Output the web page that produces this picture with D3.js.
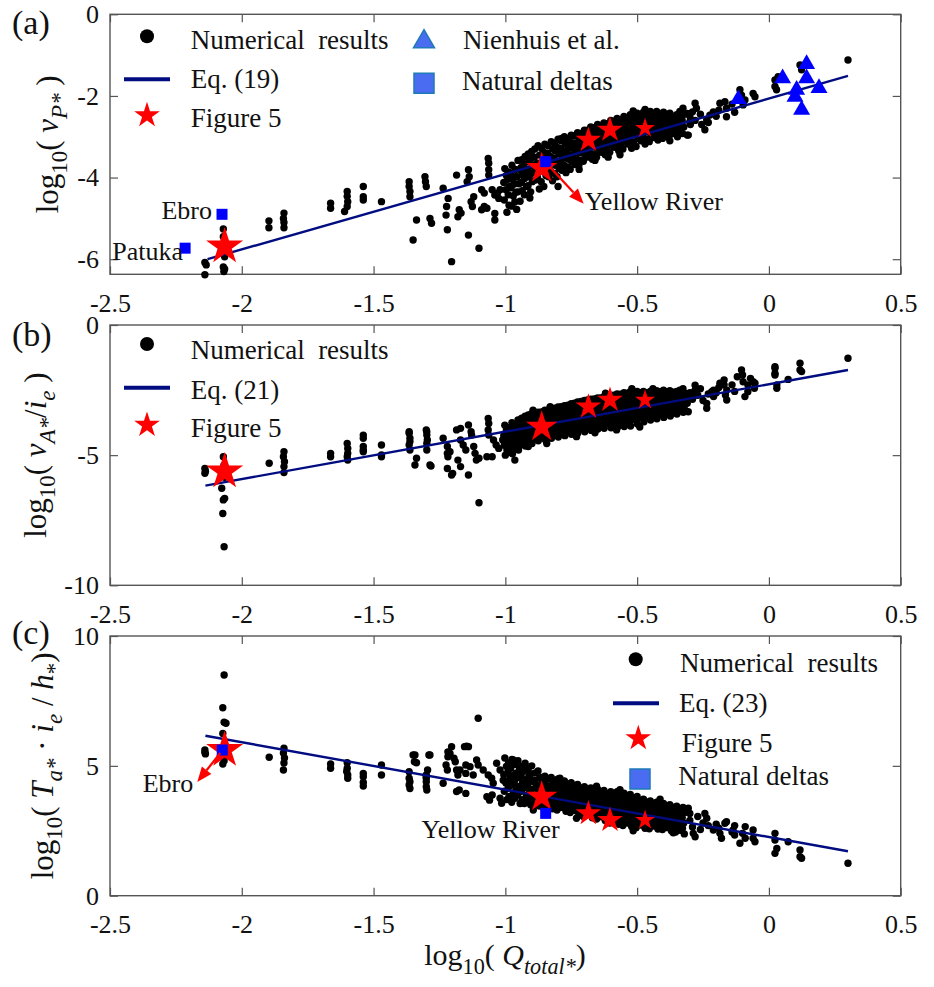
<!DOCTYPE html>
<html>
<head>
<meta charset="utf-8">
<script src="https://cdn.jsdelivr.net/npm/d3@7"></script>
<style>
body { margin: 0; background: #fff; }
text { font-family: "Liberation Serif", "Times New Roman", serif; white-space: pre; }
</style>
</head>
<body>
<div id="chart"></div>
<script>
// ---- data ----
const xTicks = [-2.5, -2, -1.5, -1, -0.5, 0, 0.5];
const yTicksA = [-6, -4, -2, 0];
const yTicksB = [-10, -5, 0];
const yTicksC = [0, 5, 10];

// fitted relations (end points of the plotted lines)
const eq19 = [[-2.13, -6.0], [0.30, -1.51]];
const eq21 = [[-2.138, -6.17], [0.30, -1.73]];
const eq23 = [[-2.138, 6.16], [0.30, 1.71]];

// "Figure 5" runs
const fig5Q = [-2.065, -0.862, -0.685, -0.603, -0.470];
const fig5A = [-5.69, -3.77, -3.08, -2.83, -2.79];
const fig5B = [-5.63, -3.91, -3.14, -2.88, -2.88];
const fig5C = [5.61, 3.81, 3.17, 2.91, 2.91];
const fig5Radius = [19.5, 16.5, 13.5, 13.5, 10.5];

// natural deltas
const deltaNamesA = ["Patuka", "Ebro", "Yellow River"];
const deltaQA = [-2.215, -2.075, -0.847];
const deltaVA = [-5.73, -4.90, -3.61];
const deltaNamesC = ["Ebro", "Yellow River"];
const deltaQC = [-2.074, -0.847];
const deltaTC = [5.61, 3.17];

// Nienhuis et al.
const nienhuisQ = [-0.116, 0.052, 0.143, 0.143, 0.105, 0.190, 0.099, 0.124];
const nienhuisV = [-2.08, -1.57, -1.22, -1.57, -1.85, -1.81, -2.02, -2.34];

// numerical results, panel (a): [log10 Qtotal*, log10 vP*]
const numA = [
  [-2.14,-6.08],[-2.135,-6.14],[-2.14,-6.38],
  [-2.07,-5.26],[-2.07,-5.45],[-2.065,-5.6],[-2.07,-5.8],[-2.065,-5.94],[-2.07,-6.19],[-2.068,-6.3],[-2.065,-6.24],
  [-1.897,-5.06],[-1.897,-5.23],
  [-1.84,-4.87],[-1.842,-5.0],[-1.84,-5.1],[-1.84,-5.23],
  [-1.663,-4.63],[-1.663,-4.75],
  [-1.60,-4.34],[-1.60,-4.46],[-1.598,-4.59],[-1.60,-4.71],[-1.61,-4.83],
  [-1.539,-4.22],[-1.539,-4.47],[-1.539,-4.55],
  [-1.47,-4.59],
  [-1.365,-4.10],[-1.365,-4.22],[-1.362,-4.34],[-1.362,-4.47],
  [-1.305,-3.98],[-1.303,-4.10],[-1.30,-4.22],
  [-1.337,-5.04],[-1.35,-5.53],[-1.286,-5.0],[-1.28,-5.12],
  [-1.236,-4.26],[-1.217,-4.51],[-1.223,-4.71],[-1.225,-4.92],[-1.22,-5.28],
  [-1.185,-3.94],[-1.175,-4.79],[-1.18,-4.96],[-1.168,-4.87],
  [-1.204,-6.06],
  [-1.14,-3.81],[-1.137,-3.98],[-1.145,-4.10],[-1.14,-5.41],[-1.10,-5.73],
  [-1.065,-3.53],[-1.063,-3.65],[-1.063,-3.81],[-1.063,-3.94],
  [-1.13,-4.59],[-1.125,-4.71],[-1.12,-4.47],
  [-1.09,-4.30],[-1.08,-4.38],[-1.08,-4.71],[-1.09,-4.79],
  [-1.07,-4.75],[-1.04,-4.88],[-1.04,-5.04],
  [-1.05,-4.30],[-1.04,-4.43],[-1.03,-4.38],[-1.025,-4.51],[-1.02,-4.30],
  [-1.002,-3.78],[-0.996,-3.95],[-1.006,-4.12],[-0.998,-4.3],[-1.004,-4.55],[-0.994,-4.85],
  [-0.975,-3.7],[-0.98,-3.9],[-0.972,-4.05],[-0.978,-4.25],[-0.97,-4.45],[-0.976,-4.7],
  [-0.952,-3.58],[-0.946,-3.8],[-0.955,-3.98],[-0.948,-4.15],[-0.953,-4.35],[-0.944,-4.58],
  [-0.925,-3.48],[-0.93,-3.66],[-0.921,-3.85],[-0.927,-4.02],[-0.92,-4.22],[-0.928,-4.42],
  [-0.9,-3.36],[-0.905,-3.55],[-0.896,-3.72],[-0.902,-3.9],[-0.898,-4.1],[-0.904,-4.35],
  [-0.876,-3.22],[-0.87,-3.45],[-0.879,-3.65],[-0.873,-3.82],[-0.878,-4.0],[-0.871,-4.28],
  [-0.85,-3.18],[-0.855,-3.38],[-0.847,-3.55],[-0.852,-3.75],[-0.846,-3.95],[-0.854,-4.22],
  [-0.826,-3.12],[-0.82,-3.3],[-0.829,-3.48],[-0.823,-3.66],[-0.828,-3.85],[-0.821,-4.08],
  [-0.8,-3.06],[-0.805,-3.25],[-0.797,-3.42],[-0.803,-3.6],[-0.796,-3.78],[-0.804,-3.98],
  [-0.776,-3.0],[-0.771,-3.18],[-0.779,-3.35],[-0.773,-3.52],[-0.778,-3.7],[-0.77,-3.88],
  [-0.75,-2.96],[-0.755,-3.12],[-0.746,-3.28],[-0.752,-3.45],[-0.747,-3.62],[-0.754,-3.8],
  [-0.726,-2.9],[-0.72,-3.06],[-0.729,-3.22],[-0.723,-3.38],[-0.728,-3.55],[-0.721,-3.7],
  [-0.7,-2.84],[-0.705,-3.0],[-0.697,-3.15],[-0.703,-3.3],[-0.696,-3.45],[-0.704,-3.6],
  [-0.676,-2.76],[-0.671,-2.92],[-0.679,-3.08],[-0.673,-3.24],[-0.678,-3.4],[-0.67,-3.55],
  [-0.65,-2.7],[-0.655,-2.86],[-0.646,-3.02],[-0.652,-3.18],[-0.647,-3.34],[-0.654,-3.5],
  [-0.626,-2.66],[-0.62,-2.82],[-0.629,-2.98],[-0.623,-3.12],[-0.628,-3.28],[-0.621,-3.44],
  [-0.6,-2.6],[-0.605,-2.76],[-0.597,-2.9],[-0.603,-3.05],[-0.596,-3.2],[-0.604,-3.38],
  [-0.576,-2.55],[-0.571,-2.7],[-0.579,-2.86],[-0.573,-3.0],[-0.578,-3.16],[-0.57,-3.34],
  [-0.55,-2.5],[-0.555,-2.66],[-0.546,-2.8],[-0.552,-2.95],[-0.547,-3.12],[-0.554,-3.3],
  [-0.526,-2.46],[-0.52,-2.62],[-0.529,-2.76],[-0.523,-2.92],[-0.528,-3.08],[-0.521,-3.28],
  [-0.5,-2.42],[-0.505,-2.58],[-0.497,-2.72],[-0.503,-2.88],[-0.496,-3.04],[-0.504,-3.24],
  [-0.476,-2.4],[-0.471,-2.55],[-0.479,-2.7],[-0.473,-2.84],[-0.478,-3.0],[-0.47,-3.18],
  [-0.45,-2.38],[-0.455,-2.52],[-0.446,-2.66],[-0.452,-2.8],[-0.447,-2.96],[-0.454,-3.12],
  [-0.426,-2.38],[-0.42,-2.52],[-0.429,-2.64],[-0.423,-2.78],[-0.428,-2.92],[-0.421,-3.08],
  [-0.4,-2.4],[-0.405,-2.54],[-0.397,-2.66],[-0.403,-2.8],[-0.396,-2.92],[-0.404,-3.04],
  [-0.376,-2.42],[-0.371,-2.56],[-0.379,-2.7],[-0.373,-2.84],[-0.378,-2.98],
  [-0.35,-2.46],[-0.355,-2.6],[-0.346,-2.74],[-0.352,-2.88],[-0.347,-3.0],
  [-0.326,-2.3],[-0.32,-2.45],[-0.329,-2.6],[-0.323,-2.76],[-0.328,-2.92],
  [-0.306,-2.96],[-0.243,-2.83],
  [-0.28,-2.18],[-0.275,-2.30],[-0.29,-2.39],[-0.31,-2.43],[-0.30,-2.63],[-0.31,-2.96],
  [-0.338,-2.51],[-0.332,-2.63],[-0.35,-2.75],[-0.363,-2.83],[-0.376,-2.91],[-0.388,-3.0],
  [-0.236,-2.59],[-0.224,-2.47],[-0.211,-2.39],
  [-0.186,-2.18],[-0.167,-2.14],[-0.161,-2.30],[-0.161,-2.51],
  [-0.11,-1.85],[-0.104,-1.98],[-0.098,-2.22],[-0.091,-2.10],
  [-0.06,-1.94],[-0.053,-2.02],
  [0.023,-1.61],[0.023,-1.77],[0.029,-1.85],[0.035,-1.53],
  [0.118,-1.24],[0.124,-1.36],
  [0.30,-1.12]
];
// panel (a), second pass over the dense band and its ragged edges
const numAExtra = [
  [-0.988,-3.86],[-0.99,-4.04],[-0.985,-4.22],[-0.989,-4.42],[-0.986,-4.68],
  [-0.963,-3.8],[-0.961,-3.98],[-0.966,-4.16],[-0.96,-4.36],[-0.964,-4.6],
  [-0.938,-3.56],[-0.94,-3.75],[-0.935,-3.93],[-0.939,-4.12],[-0.936,-4.32],
  [-0.913,-3.42],[-0.911,-3.62],[-0.916,-3.8],[-0.91,-3.98],[-0.914,-4.2],
  [-0.888,-3.3],[-0.89,-3.5],[-0.885,-3.68],[-0.889,-3.86],[-0.886,-4.06],
  [-0.863,-3.28],[-0.861,-3.46],[-0.866,-3.64],[-0.86,-3.84],[-0.864,-4.1],
  [-0.838,-3.22],[-0.84,-3.4],[-0.835,-3.58],[-0.839,-3.76],[-0.836,-3.98],
  [-0.813,-3.16],[-0.811,-3.34],[-0.816,-3.52],[-0.81,-3.7],[-0.814,-3.9],
  [-0.788,-3.1],[-0.79,-3.28],[-0.785,-3.46],[-0.789,-3.62],[-0.786,-3.82],
  [-0.763,-3.05],[-0.761,-3.22],[-0.766,-3.38],[-0.76,-3.55],[-0.764,-3.74],
  [-0.738,-2.98],[-0.74,-3.16],[-0.735,-3.32],[-0.739,-3.5],[-0.736,-3.68],
  [-0.713,-2.92],[-0.711,-3.08],[-0.716,-3.24],[-0.71,-3.4],[-0.714,-3.58],
  [-0.688,-2.84],[-0.69,-3.0],[-0.685,-3.16],[-0.689,-3.32],[-0.686,-3.5],
  [-0.663,-2.78],[-0.661,-2.94],[-0.666,-3.1],[-0.66,-3.26],[-0.664,-3.44],
  [-0.638,-2.74],[-0.64,-2.9],[-0.635,-3.05],[-0.639,-3.2],[-0.636,-3.38],
  [-0.613,-2.68],[-0.611,-2.84],[-0.616,-2.98],[-0.61,-3.14],[-0.614,-3.3],
  [-0.588,-2.62],[-0.59,-2.78],[-0.585,-2.94],[-0.589,-3.08],[-0.586,-3.26],
  [-0.563,-2.58],[-0.561,-2.74],[-0.566,-2.88],[-0.56,-3.04],[-0.564,-3.2],
  [-0.538,-2.54],[-0.54,-2.7],[-0.535,-2.84],[-0.539,-3.0],[-0.536,-3.18],
  [-0.513,-2.5],[-0.511,-2.65],[-0.516,-2.8],[-0.51,-2.96],[-0.514,-3.14],
  [-0.488,-2.46],[-0.49,-2.62],[-0.485,-2.77],[-0.489,-2.92],[-0.486,-3.1],
  [-0.463,-2.44],[-0.461,-2.59],[-0.466,-2.73],[-0.46,-2.88],[-0.464,-3.06],
  [-0.438,-2.44],[-0.44,-2.58],[-0.435,-2.72],[-0.439,-2.86],[-0.436,-3.02],
  [-0.413,-2.45],[-0.411,-2.58],[-0.416,-2.72],[-0.41,-2.86],[-0.414,-2.98],
  [-0.388,-2.46],[-0.39,-2.6],[-0.385,-2.74],[-0.389,-2.88],
  [-0.363,-2.5],[-0.361,-2.64],[-0.366,-2.78],[-0.36,-2.92],
  [-0.338,-2.38],[-0.34,-2.52],[-0.335,-2.68],[-0.339,-2.84],
  [-0.3,-2.5],[-0.298,-2.7],[-0.28,-2.6],[-0.26,-2.45],[-0.255,-2.7],[-0.23,-2.65],[-0.2,-2.5],[-0.19,-2.35],[-0.14,-2.2],[-0.13,-2.4],
  [-0.787,-3.04],[-0.515,-2.37],[-0.47,-2.33],[-0.80,-4.22],[-0.907,-4.5],[-0.957,-4.78],
  [-0.565,-3.44],[-0.66,-3.58],[-0.376,-3.1],[-0.72,-3.8],[-0.61,-3.5]
];

// numerical results, panel (b): [log10 Qtotal*, log10 vA*/ie]
const numB = [
  [-2.14,-5.51],[-2.138,-5.62],[-2.14,-5.70],
  [-2.07,-5.06],[-2.068,-5.4],[-2.07,-5.6],[-2.065,-5.85],[-2.076,-6.27],[-2.065,-6.66],[-2.07,-6.72],[-2.072,-7.24],[-2.067,-8.52],
  [-1.896,-5.31],
  [-1.84,-4.87],[-1.842,-5.06],[-1.838,-5.25],[-1.84,-5.44],[-1.84,-5.67],
  [-1.663,-4.93],[-1.663,-5.06],
  [-1.60,-4.55],[-1.598,-4.74],[-1.598,-4.93],[-1.60,-5.06],[-1.598,-5.19],
  [-1.539,-4.23],[-1.539,-4.35],[-1.539,-4.67],[-1.539,-4.80],[-1.539,-4.87],
  [-1.47,-4.61],[-1.47,-4.99],[-1.47,-5.06],
  [-1.365,-4.10],[-1.365,-4.16],[-1.362,-4.35],[-1.362,-4.48],[-1.365,-4.61],[-1.362,-4.80],
  [-1.343,-5.38],[-1.337,-5.12],
  [-1.30,-4.03],[-1.298,-4.10],[-1.298,-4.23],[-1.296,-4.42],[-1.298,-4.55],[-1.298,-4.80],
  [-1.286,-5.38],[-1.282,-5.42],
  [-1.236,-4.35],
  [-1.22,-4.67],[-1.22,-4.93],[-1.218,-5.06],[-1.22,-5.51],[-1.20,-5.70],[-1.21,-4.87],
  [-1.204,-5.76],
  [-1.185,-4.03],[-1.17,-3.97],[-1.14,-3.84],[-1.13,-4.10],[-1.128,-4.23],
  [-1.17,-4.42],[-1.16,-4.61],[-1.15,-4.80],[-1.12,-4.67],[-1.115,-4.93],[-1.18,-5.19],[-1.17,-5.44],
  [-1.14,-5.76],[-1.10,-6.83],
  [-1.065,-3.59],[-1.063,-3.78],[-1.065,-4.03],[-1.063,-4.23],
  [-1.11,-5.19],[-1.10,-5.12],[-1.07,-5.06],[-1.05,-5.06],
  [-1.045,-4.42],[-1.035,-4.61],[-1.025,-4.74],[-1.01,-4.42],
  [-0.964,-5.19],
  [-0.895,-3.27],[-0.88,-3.52],
  [-0.85,-3.27],[-0.83,-3.14],[-0.81,-3.33],[-0.78,-3.27],[-0.755,-3.52],
  [-0.66,-4.14],[-0.578,-4.03],
  [-1.002,-3.85],[-0.996,-4.05],[-1.006,-4.25],[-0.998,-4.45],[-1.004,-4.62],[-0.994,-4.8],[-1.0,-5.0],
  [-0.975,-3.75],[-0.98,-3.95],[-0.972,-4.15],[-0.978,-4.35],[-0.97,-4.55],[-0.976,-4.75],[-0.973,-4.95],
  [-0.952,-3.65],[-0.946,-3.85],[-0.955,-4.05],[-0.948,-4.25],[-0.953,-4.45],[-0.944,-4.62],[-0.95,-4.8],
  [-0.925,-3.5],[-0.93,-3.7],[-0.921,-3.9],[-0.927,-4.1],[-0.92,-4.3],[-0.928,-4.48],[-0.924,-4.65],
  [-0.9,-3.4],[-0.905,-3.6],[-0.896,-3.8],[-0.902,-3.98],[-0.898,-4.18],[-0.904,-4.38],[-0.899,-4.55],
  [-0.876,-3.35],[-0.87,-3.55],[-0.879,-3.74],[-0.873,-3.92],[-0.878,-4.1],[-0.871,-4.28],[-0.875,-4.45],
  [-0.85,-3.3],[-0.855,-3.5],[-0.847,-3.68],[-0.852,-3.86],[-0.846,-4.04],[-0.854,-4.22],[-0.849,-4.4],
  [-0.826,-3.22],[-0.82,-3.42],[-0.829,-3.6],[-0.823,-3.8],[-0.828,-3.98],[-0.821,-4.16],[-0.825,-4.35],
  [-0.8,-3.15],[-0.805,-3.35],[-0.797,-3.54],[-0.803,-3.73],[-0.796,-3.92],[-0.804,-4.1],[-0.799,-4.3],
  [-0.776,-3.1],[-0.771,-3.3],[-0.779,-3.48],[-0.773,-3.67],[-0.778,-3.86],[-0.77,-4.05],[-0.774,-4.25],
  [-0.75,-3.02],[-0.755,-3.22],[-0.746,-3.42],[-0.752,-3.62],[-0.747,-3.8],[-0.754,-4.0],[-0.749,-4.2],
  [-0.726,-2.96],[-0.72,-3.16],[-0.729,-3.36],[-0.723,-3.56],[-0.728,-3.75],[-0.721,-3.95],[-0.725,-4.15],
  [-0.7,-2.9],[-0.705,-3.1],[-0.697,-3.3],[-0.703,-3.5],[-0.696,-3.7],[-0.704,-3.9],[-0.699,-4.1],
  [-0.676,-2.85],[-0.671,-3.05],[-0.679,-3.25],[-0.673,-3.45],[-0.678,-3.65],[-0.67,-3.85],[-0.674,-4.05],
  [-0.65,-2.8],[-0.655,-3.0],[-0.646,-3.2],[-0.652,-3.4],[-0.647,-3.6],[-0.654,-3.8],[-0.649,-4.0],
  [-0.626,-2.75],[-0.62,-2.95],[-0.629,-3.15],[-0.623,-3.35],[-0.628,-3.55],[-0.621,-3.76],[-0.625,-3.97],
  [-0.6,-2.7],[-0.605,-2.9],[-0.597,-3.1],[-0.603,-3.3],[-0.596,-3.52],[-0.604,-3.73],[-0.599,-3.95],
  [-0.576,-2.65],[-0.571,-2.86],[-0.579,-3.06],[-0.573,-3.26],[-0.578,-3.48],[-0.57,-3.7],[-0.574,-3.92],
  [-0.55,-2.6],[-0.555,-2.82],[-0.546,-3.02],[-0.552,-3.23],[-0.547,-3.45],[-0.554,-3.67],[-0.549,-3.9],
  [-0.526,-2.56],[-0.52,-2.78],[-0.529,-2.98],[-0.523,-3.2],[-0.528,-3.42],[-0.521,-3.65],[-0.525,-3.88],
  [-0.5,-2.55],[-0.505,-2.75],[-0.497,-2.95],[-0.503,-3.16],[-0.496,-3.38],[-0.504,-3.6],[-0.499,-3.8],
  [-0.476,-2.55],[-0.471,-2.74],[-0.479,-2.93],[-0.473,-3.12],[-0.478,-3.32],[-0.47,-3.52],[-0.474,-3.72],
  [-0.45,-2.55],[-0.455,-2.73],[-0.446,-2.91],[-0.452,-3.09],[-0.447,-3.28],[-0.454,-3.46],[-0.449,-3.65],
  [-0.426,-2.52],[-0.42,-2.7],[-0.429,-2.88],[-0.423,-3.06],[-0.428,-3.24],[-0.421,-3.42],[-0.425,-3.6],
  [-0.4,-2.5],[-0.405,-2.68],[-0.397,-2.86],[-0.403,-3.03],[-0.396,-3.2],[-0.404,-3.38],[-0.399,-3.55],
  [-0.376,-2.52],[-0.371,-2.7],[-0.379,-2.86],[-0.373,-3.02],[-0.378,-3.18],[-0.37,-3.34],[-0.374,-3.5],
  [-0.35,-2.55],[-0.355,-2.7],[-0.346,-2.85],[-0.352,-3.0],[-0.347,-3.15],[-0.354,-3.3],[-0.349,-3.42],
  [-0.326,-2.45],[-0.32,-2.62],[-0.329,-2.78],[-0.323,-2.94],[-0.328,-3.1],[-0.321,-3.22],[-0.325,-3.35],
  [-0.306,-3.33],[-0.236,-3.20],[-0.16,-2.88],
  [-0.21,-2.50],[-0.17,-2.11],[-0.17,-2.30],[-0.16,-2.50],
  [-0.12,-1.99],[-0.1,-1.92],[-0.08,-2.30],[-0.08,-2.56],[-0.06,-2.18],[-0.055,-2.43],
  [0.023,-1.66],[0.023,-1.92],[0.03,-2.30],[0.03,-2.43],[0.073,-2.09],
  [0.118,-1.47],[0.118,-1.73],[0.30,-1.28],
  [-0.28,-2.31],[-0.28,-2.50],[-0.29,-2.62],[-0.31,-2.75],[-0.31,-3.01],
  [-0.217,-2.56],[-0.21,-2.75],[-0.236,-3.01],
  [-0.186,-2.24],[-0.18,-2.30],[-0.165,-2.69],
  [-0.104,-1.73],[-0.098,-2.18],[-0.091,-2.75],[-0.07,-2.05],
  [-0.053,-2.24],
  [0.023,-1.60],[0.023,-1.86],[0.124,-1.79]
];
// panel (b), second pass over the dense band and its ragged edges
const numBExtra = [
  [-0.988,-3.95],[-0.99,-4.15],[-0.985,-4.35],[-0.989,-4.55],[-0.986,-4.72],[-0.99,-4.9],
  [-0.963,-3.82],[-0.961,-4.02],[-0.966,-4.22],[-0.96,-4.42],[-0.964,-4.6],[-0.962,-4.78],
  [-0.938,-3.58],[-0.94,-3.78],[-0.935,-3.98],[-0.939,-4.18],[-0.936,-4.38],[-0.94,-4.58],
  [-0.913,-3.46],[-0.911,-3.66],[-0.916,-3.86],[-0.91,-4.04],[-0.914,-4.24],[-0.912,-4.44],
  [-0.888,-3.38],[-0.89,-3.58],[-0.885,-3.78],[-0.889,-3.96],[-0.886,-4.14],[-0.89,-4.34],
  [-0.863,-3.34],[-0.861,-3.52],[-0.866,-3.7],[-0.86,-3.9],[-0.864,-4.08],[-0.862,-4.3],
  [-0.838,-3.26],[-0.84,-3.45],[-0.835,-3.64],[-0.839,-3.83],[-0.836,-4.02],[-0.84,-4.22],
  [-0.813,-3.2],[-0.811,-3.4],[-0.816,-3.58],[-0.81,-3.77],[-0.814,-3.96],[-0.812,-4.16],
  [-0.788,-3.14],[-0.79,-3.34],[-0.785,-3.52],[-0.789,-3.71],[-0.786,-3.9],[-0.79,-4.12],
  [-0.763,-3.08],[-0.761,-3.28],[-0.766,-3.46],[-0.76,-3.65],[-0.764,-3.84],[-0.762,-4.05],
  [-0.738,-3.0],[-0.74,-3.2],[-0.735,-3.4],[-0.739,-3.6],[-0.736,-3.8],[-0.74,-4.0],
  [-0.713,-2.94],[-0.711,-3.14],[-0.716,-3.34],[-0.71,-3.54],[-0.714,-3.74],[-0.712,-3.95],
  [-0.688,-2.88],[-0.69,-3.08],[-0.685,-3.28],[-0.689,-3.48],[-0.686,-3.68],[-0.69,-3.9],
  [-0.663,-2.84],[-0.661,-3.04],[-0.666,-3.24],[-0.66,-3.44],[-0.664,-3.64],[-0.662,-3.84],
  [-0.638,-2.8],[-0.64,-3.0],[-0.635,-3.2],[-0.639,-3.4],[-0.636,-3.6],[-0.64,-3.8],
  [-0.613,-2.74],[-0.611,-2.94],[-0.616,-3.14],[-0.61,-3.35],[-0.614,-3.56],[-0.612,-3.78],
  [-0.588,-2.7],[-0.59,-2.9],[-0.585,-3.1],[-0.589,-3.3],[-0.586,-3.52],[-0.59,-3.74],
  [-0.563,-2.66],[-0.561,-2.86],[-0.566,-3.06],[-0.56,-3.27],[-0.564,-3.48],[-0.562,-3.7],
  [-0.538,-2.62],[-0.54,-2.82],[-0.535,-3.02],[-0.539,-3.24],[-0.536,-3.45],[-0.54,-3.68],
  [-0.513,-2.6],[-0.511,-2.8],[-0.516,-3.0],[-0.51,-3.2],[-0.514,-3.42],[-0.512,-3.62],
  [-0.488,-2.6],[-0.49,-2.78],[-0.485,-2.97],[-0.489,-3.16],[-0.486,-3.36],[-0.49,-3.56],
  [-0.463,-2.6],[-0.461,-2.78],[-0.466,-2.96],[-0.46,-3.14],[-0.464,-3.32],[-0.462,-3.5],
  [-0.438,-2.58],[-0.44,-2.76],[-0.435,-2.94],[-0.439,-3.12],[-0.436,-3.3],[-0.44,-3.48],
  [-0.413,-2.56],[-0.411,-2.74],[-0.416,-2.92],[-0.41,-3.1],[-0.414,-3.27],[-0.412,-3.44],
  [-0.388,-2.56],[-0.39,-2.74],[-0.385,-2.9],[-0.389,-3.06],[-0.386,-3.22],[-0.39,-3.4],
  [-0.363,-2.58],[-0.361,-2.74],[-0.366,-2.9],[-0.36,-3.05],[-0.364,-3.2],[-0.362,-3.36],
  [-0.338,-2.5],[-0.34,-2.66],[-0.335,-2.82],[-0.339,-2.98],[-0.336,-3.14],[-0.34,-3.28],
  [-0.3,-2.6],[-0.29,-2.85],[-0.27,-2.7],[-0.26,-2.45],[-0.25,-2.9],[-0.23,-2.65],[-0.2,-2.6],[-0.19,-2.4],[-0.14,-2.3],[-0.13,-2.55],
  [-0.73,-4.29],[-0.843,-4.55],[-0.913,-4.67],[-0.52,-2.45],[-0.44,-2.45],[-0.62,-2.62],[-0.49,-3.92]
];

// numerical results, panel (c): [log10 Qtotal*, log10 Ta* ie/h*]
const numC = [
  [-2.14,5.61],[-2.138,5.46],[-2.14,5.52],
  [-2.067,8.50],[-2.072,7.24],[-2.067,6.68],[-2.06,6.64],[-2.072,6.25],[-2.067,5.20],[-2.072,5.07],[-2.07,5.5],[-2.065,5.8],
  [-1.896,5.33],
  [-1.84,5.68],[-1.842,5.49],[-1.838,5.30],[-1.84,5.11],[-1.842,4.84],
  [-1.663,5.07],[-1.663,4.91],
  [-1.60,5.12],[-1.60,4.91],[-1.602,4.78],[-1.598,4.65],[-1.598,4.52],
  [-1.539,4.71],[-1.539,4.58],[-1.539,4.36],[-1.539,4.22],
  [-1.47,5.03],[-1.47,4.65],
  [-1.365,4.77],[-1.362,4.39],[-1.365,4.26],[-1.362,4.13],[-1.365,4.52],
  [-1.343,5.42],[-1.337,5.12],
  [-1.30,4.65],[-1.30,4.39],[-1.30,4.20],[-1.298,4.07],[-1.30,4.52],
  [-1.286,5.42],
  [-1.236,4.33],
  [-1.225,5.03],[-1.22,4.84],[-1.218,5.54],[-1.218,5.35],
  [-1.204,5.74],
  [-1.185,4.84],[-1.18,4.65],[-1.175,4.07],[-1.185,4.01],[-1.155,5.74],[-1.15,3.94],[-1.15,4.71],[-1.15,5.03],
  [-1.147,5.76],[-1.21,5.48],[-1.195,5.29],[-1.19,5.16],
  [-1.35,5.42],[-1.345,5.16],[-1.29,5.42],[-1.295,4.84],[-1.30,4.58],
  [-1.172,4.84],[-1.134,4.97],[-1.109,5.23],[-1.103,5.03],[-1.122,4.65],[-1.084,4.84],[-1.065,4.65],[-1.052,4.52],[-1.046,4.33],
  [-1.033,5.10],[-1.02,4.84],[-1.008,4.45],[-0.989,4.71],[-0.964,5.16],[-0.97,4.33],[-0.957,4.0],[-0.945,4.58],[-0.932,4.20],
  [-0.919,3.81],[-0.907,4.52],[-0.894,3.43],
  [-1.02,3.75],[-1.014,3.56],[-1.06,3.68],[-1.07,3.81],[-1.05,3.88],
  [-0.894,3.30],[-1.103,6.83],[-1.14,5.74],
  [-1.002,5.3],[-0.996,4.98],[-1.006,4.66],[-0.998,4.34],[-1.004,4.02],[-0.994,3.7],
  [-0.975,5.25],[-0.98,4.92],[-0.972,4.59],[-0.978,4.26],[-0.97,3.93],[-0.976,3.6],
  [-0.952,5.2],[-0.946,4.87],[-0.955,4.54],[-0.948,4.21],[-0.953,3.88],[-0.944,3.55],
  [-0.925,5.1],[-0.93,4.79],[-0.921,4.48],[-0.927,4.17],[-0.92,3.86],[-0.928,3.55],
  [-0.9,5.0],[-0.905,4.7],[-0.896,4.4],[-0.902,4.1],[-0.898,3.8],[-0.904,3.5],
  [-0.876,4.8],[-0.87,4.53],[-0.879,4.26],[-0.873,3.99],[-0.878,3.72],[-0.871,3.45],
  [-0.85,4.6],[-0.855,4.36],[-0.847,4.12],[-0.852,3.88],[-0.846,3.64],[-0.854,3.4],
  [-0.826,4.55],[-0.82,4.3],[-0.829,4.07],[-0.823,3.83],[-0.828,3.59],[-0.821,3.35],
  [-0.8,4.5],[-0.805,4.26],[-0.797,4.02],[-0.803,3.78],[-0.796,3.54],[-0.804,3.3],
  [-0.776,4.42],[-0.771,4.19],[-0.779,3.95],[-0.773,3.72],[-0.778,3.48],[-0.77,3.25],
  [-0.75,4.35],[-0.755,4.12],[-0.746,3.89],[-0.752,3.66],[-0.747,3.43],[-0.754,3.2],
  [-0.726,4.28],[-0.72,4.05],[-0.729,3.82],[-0.723,3.58],[-0.728,3.35],[-0.721,3.12],
  [-0.7,4.2],[-0.705,3.97],[-0.697,3.74],[-0.703,3.51],[-0.696,3.28],[-0.704,3.05],
  [-0.676,4.15],[-0.671,3.92],[-0.679,3.69],[-0.673,3.46],[-0.678,3.23],[-0.67,3.0],
  [-0.65,4.1],[-0.655,3.87],[-0.646,3.64],[-0.652,3.41],[-0.647,3.18],[-0.654,2.95],
  [-0.626,4.05],[-0.62,3.82],[-0.629,3.59],[-0.623,3.36],[-0.628,3.13],[-0.621,2.9],
  [-0.6,4.0],[-0.605,3.76],[-0.597,3.52],[-0.603,3.28],[-0.596,3.04],[-0.604,2.8],
  [-0.576,4.0],[-0.571,3.75],[-0.579,3.5],[-0.573,3.25],[-0.578,3.0],[-0.57,2.75],
  [-0.55,3.95],[-0.555,3.7],[-0.546,3.45],[-0.552,3.2],[-0.547,2.95],[-0.554,2.7],
  [-0.526,3.9],[-0.52,3.65],[-0.529,3.4],[-0.523,3.16],[-0.528,2.92],[-0.521,2.66],
  [-0.5,3.82],[-0.505,3.58],[-0.497,3.34],[-0.503,3.1],[-0.496,2.85],[-0.504,2.62],
  [-0.476,3.72],[-0.471,3.5],[-0.479,3.27],[-0.473,3.04],[-0.478,2.82],[-0.47,2.6],
  [-0.45,3.65],[-0.455,3.44],[-0.446,3.23],[-0.452,3.02],[-0.447,2.8],[-0.454,2.58],
  [-0.426,3.6],[-0.42,3.4],[-0.429,3.19],[-0.423,2.98],[-0.428,2.77],[-0.421,2.57],
  [-0.4,3.55],[-0.405,3.35],[-0.397,3.15],[-0.403,2.95],[-0.396,2.75],[-0.404,2.55],
  [-0.376,3.5],[-0.371,3.3],[-0.379,3.1],[-0.373,2.9],[-0.378,2.7],[-0.37,2.5],
  [-0.35,3.45],[-0.355,3.25],[-0.346,3.05],[-0.352,2.85],[-0.347,2.65],[-0.354,2.45],
  [-0.326,3.4],[-0.32,3.2],[-0.329,3.0],[-0.323,2.8],[-0.328,2.6],[-0.321,2.38],
  [-0.306,3.37],[-0.30,3.17],[-0.287,2.40],[-0.28,2.27],[-0.243,3.17],[-0.236,2.98],[-0.211,2.53],[-0.186,2.40],[-0.18,2.21],[-0.161,2.85],[-0.167,2.79],
  [-0.136,2.53],[-0.13,2.34],[-0.11,2.02],[-0.1,2.40],[-0.09,2.66],[-0.09,2.21],[-0.06,2.53],[-0.06,2.21],[-0.053,2.08],
  [0.023,2.40],[0.023,2.14],[0.03,1.82],[0.023,1.63],[0.073,2.08],
  [0.118,1.76],[0.118,1.50],[0.124,1.44],
  [0.30,1.25]
];
// panel (c), second pass over the dense band and its ragged edges
const numCExtra = [
  [-0.988,5.1],[-0.99,4.78],[-0.985,4.46],[-0.989,4.14],[-0.986,3.82],
  [-0.963,5.05],[-0.961,4.72],[-0.966,4.4],[-0.96,4.08],[-0.964,3.75],
  [-0.938,4.98],[-0.94,4.66],[-0.935,4.34],[-0.939,4.02],[-0.936,3.7],
  [-0.913,4.9],[-0.911,4.58],[-0.916,4.28],[-0.91,3.96],[-0.914,3.66],
  [-0.888,4.72],[-0.89,4.44],[-0.885,4.16],[-0.889,3.88],[-0.886,3.62],
  [-0.863,4.55],[-0.861,4.3],[-0.866,4.05],[-0.86,3.8],[-0.864,3.56],
  [-0.838,4.5],[-0.84,4.24],[-0.835,3.98],[-0.839,3.74],[-0.836,3.5],
  [-0.813,4.45],[-0.811,4.2],[-0.816,3.94],[-0.81,3.7],[-0.814,3.44],
  [-0.788,4.38],[-0.79,4.13],[-0.785,3.88],[-0.789,3.63],[-0.786,3.4],
  [-0.763,4.3],[-0.761,4.06],[-0.766,3.82],[-0.76,3.58],[-0.764,3.34],
  [-0.738,4.22],[-0.74,3.99],[-0.735,3.75],[-0.739,3.52],[-0.736,3.28],
  [-0.713,4.14],[-0.711,3.92],[-0.716,3.68],[-0.71,3.44],[-0.714,3.2],
  [-0.688,4.08],[-0.69,3.85],[-0.685,3.62],[-0.689,3.38],[-0.686,3.14],
  [-0.663,4.04],[-0.661,3.8],[-0.666,3.56],[-0.66,3.32],[-0.664,3.08],
  [-0.638,3.98],[-0.64,3.75],[-0.635,3.52],[-0.639,3.28],[-0.636,3.04],
  [-0.613,3.92],[-0.611,3.68],[-0.616,3.44],[-0.61,3.2],[-0.614,2.96],
  [-0.588,3.9],[-0.59,3.64],[-0.585,3.38],[-0.589,3.13],[-0.586,2.9],
  [-0.563,3.86],[-0.561,3.6],[-0.566,3.34],[-0.56,3.08],[-0.564,2.84],
  [-0.538,3.8],[-0.54,3.55],[-0.535,3.3],[-0.539,3.05],[-0.536,2.8],
  [-0.513,3.74],[-0.511,3.5],[-0.516,3.26],[-0.51,3.02],[-0.514,2.76],
  [-0.488,3.66],[-0.49,3.44],[-0.485,3.2],[-0.489,2.96],[-0.486,2.72],
  [-0.463,3.6],[-0.461,3.38],[-0.466,3.16],[-0.46,2.93],[-0.464,2.7],
  [-0.438,3.54],[-0.44,3.33],[-0.435,3.12],[-0.439,2.9],[-0.436,2.68],
  [-0.413,3.5],[-0.411,3.3],[-0.416,3.08],[-0.41,2.87],[-0.414,2.66],
  [-0.388,3.44],[-0.39,3.24],[-0.385,3.04],[-0.389,2.84],[-0.386,2.62],
  [-0.363,3.4],[-0.361,3.2],[-0.366,3.0],[-0.36,2.8],[-0.364,2.58],
  [-0.338,3.34],[-0.34,3.14],[-0.335,2.94],[-0.339,2.74],[-0.336,2.52],
  [-0.3,2.9],[-0.29,2.65],[-0.27,3.05],[-0.26,2.55],[-0.25,2.8],[-0.23,2.7],[-0.2,2.75],[-0.19,2.6],[-0.14,2.45],[-0.13,2.7],
  [-0.97,5.23],[-0.793,4.52],[-0.654,4.22],[-0.565,4.08],[-0.413,3.72],[-0.73,2.98],[-0.515,2.5],[-0.363,2.42]
];

// ---- drawing ----
const W = 934, H = 987;
const SERIF = '"Liberation Serif", "Times New Roman", serif';
const AXIS = "#555";
const NAVY = "#000c80";
const RED = "#ff0000";
const BLUE = "#0000ff";
const LEG_FILL = "#4a6cf0", LEG_EDGE = "#1f7ab8";

const svg = d3.select("#chart").append("svg")
    .attr("width", W)
    .attr("height", H)
    .style("background", "#fff");

const x = d3.scaleLinear().domain([-2.5, 0.5]).range([110, 900.7]);

const star = r => d3.symbol().type(d3.symbolStar).size(r * r / 0.8908130915292852)();
const tri = w => d3.symbol().type(d3.symbolTriangle).size(Math.pow(w / (2 * Math.sqrt(3)), 2) * 3 * Math.sqrt(3))();
const square = s => d3.symbol().type(d3.symbolSquare).size(s * s)();

// text with subscripts / italics, parts = [[text, flags]]  flags: "s" sub, "i" italic
function mathText(parent, parts, size) {
    const t = parent.append("text").attr("font-size", size).attr("fill", "#111");
    let shift = 0;
    parts.forEach(([s, f = ""]) => {
        const sub = f.includes("s");
        const target = sub ? 0.3 * size : 0;
        const ts = t.append("tspan").text(s)
            .attr("font-size", sub ? size * 0.74 : size)
            .attr("dy", target - shift);
        if (f.includes("i")) ts.attr("font-style", "italic");
        shift = target;
    });
    return t;
}

function arrow(g, x1, y1, x2, y2) {
    const a = Math.atan2(y2 - y1, x2 - x1), L = 15, w = 6;
    const bx = x2 - L * Math.cos(a), by = y2 - L * Math.sin(a);
    g.append("line").attr("x1", x1).attr("y1", y1).attr("x2", bx).attr("y2", by)
        .attr("stroke", RED).attr("stroke-width", 2.2);
    g.append("path")
        .attr("d", `M${x2},${y2}L${bx + w * Math.sin(a)},${by - w * Math.cos(a)}L${bx - w * Math.sin(a)},${by + w * Math.cos(a)}Z`)
        .attr("fill", RED);
}

function drawPanel(p) {
    const y = d3.scaleLinear().domain(p.yDomain).range([p.bottom, p.top]);
    const g = svg.append("g");
    const left = x.range()[0], right = x.range()[1];
    const fmt = d => String(d);

    // axes, ticks pointing inward on all four sides
    const axes = g.append("g");
    const setFont = s => s.attr("font-family", SERIF).attr("font-size", 26);
    axes.append("g").attr("transform", `translate(0,${p.bottom})`)
        .call(d3.axisBottom(x).tickValues(xTicks).tickFormat(fmt).tickSizeInner(-8).tickSizeOuter(0).tickPadding(19))
        .call(setFont);
    axes.append("g").attr("transform", `translate(0,${p.top})`)
        .call(d3.axisTop(x).tickValues(xTicks).tickFormat("").tickSizeInner(-8).tickSizeOuter(0));
    axes.append("g").attr("transform", `translate(${left},0)`)
        .call(d3.axisLeft(y).tickValues(p.yTicks).tickFormat(fmt).tickSizeInner(-8).tickSizeOuter(0).tickPadding(11))
        .call(setFont);
    axes.append("g").attr("transform", `translate(${right},0)`)
        .call(d3.axisRight(y).tickValues(p.yTicks).tickFormat("").tickSizeInner(-8).tickSizeOuter(0));
    axes.selectAll(".domain").remove();
    axes.selectAll(".tick line").attr("stroke", AXIS).attr("stroke-width", 1.2);
    axes.selectAll(".tick text").attr("fill", "#111");
    axes.append("rect")
        .attr("x", left).attr("y", p.top)
        .attr("width", right - left).attr("height", p.bottom - p.top)
        .attr("fill", "none").attr("stroke", AXIS).attr("stroke-width", 1.4);

    // numerical results
    g.append("g").selectAll("circle")
        .data(p.points)
        .enter().append("circle")
        .attr("cx", d => x(d[0]))
        .attr("cy", d => y(d[1]))
        .attr("r", 3.7)
        .attr("fill", "#000");

    // fitted equation
    g.append("path")
        .datum(p.eq)
        .attr("d", d3.line().x(d => x(d[0])).y(d => y(d[1])))
        .attr("fill", "none").attr("stroke", NAVY).attr("stroke-width", 2.4);

    // Figure 5 stars
    g.append("g").selectAll("path")
        .data(fig5Q.map((q, i) => ({ q, v: p.fig5[i], r: fig5Radius[i] })))
        .enter().append("path")
        .attr("transform", d => `translate(${x(d.q)},${y(d.v)})`)
        .attr("d", d => star(d.r))
        .attr("fill", RED);

    if (p.extra) p.extra(g, y);

    // panel letter
    g.append("text").attr("x", 12).attr("y", p.top + p.letterDy)
        .attr("font-size", 34).attr("fill", "#111").text(p.letter);

    // y label
    mathText(g, p.yLabel, 31)
        .attr("text-anchor", "middle")
        .attr("transform", `translate(${p.yLabelX},${(p.top + p.bottom) / 2}) rotate(-90)`);

    // legend
    const lg = g.append("g").attr("transform", `translate(0,${p.top})`);
    p.legend.forEach(it => {
        if (it.kind === "dot") lg.append("circle").attr("cx", it.mx).attr("cy", it.my).attr("r", 7).attr("fill", "#000");
        if (it.kind === "line") lg.append("line").attr("x1", it.mx - 23).attr("x2", it.mx + 23)
            .attr("y1", it.my).attr("y2", it.my).attr("stroke", NAVY).attr("stroke-width", 4);
        if (it.kind === "star") lg.append("path").attr("transform", `translate(${it.mx},${it.my})`).attr("d", star(13.5)).attr("fill", RED);
        if (it.kind === "tri") lg.append("path").attr("transform", `translate(${it.mx},${it.my})`).attr("d", tri(21))
            .attr("fill", LEG_FILL).attr("stroke", LEG_EDGE).attr("stroke-width", 1.5);
        if (it.kind === "sq") lg.append("path").attr("transform", `translate(${it.mx},${it.my})`).attr("d", square(20))
            .attr("fill", LEG_FILL).attr("stroke", LEG_EDGE).attr("stroke-width", 1.5);
        lg.append("text").attr("x", it.tx).attr("y", it.ty).attr("font-size", 27).attr("fill", "#111").text(it.label);
    });
}

const panels = [
    {
        letter: "(a)", letterDy: 20, top: 14.3, bottom: 274.3, yDomain: [-6.37, 0], yTicks: yTicksA,
        points: numA.concat(numAExtra), eq: eq19, fig5: fig5A, yLabelX: 58,
        yLabel: [["log"], ["10", "s"], ["( "], ["v", "i"], ["P*", "si"], [" )"]],
        legend: [
            { kind: "dot", mx: 147, my: 22, tx: 190.7, ty: 35, label: "Numerical  results" },
            { kind: "line", mx: 147, my: 65, tx: 190.7, ty: 74, label: "Eq. (19)" },
            { kind: "star", mx: 147, my: 101, tx: 190.7, ty: 113, label: "Figure 5" },
            { kind: "tri", mx: 424, my: 27.5, tx: 463, ty: 35, label: "Nienhuis et al." },
            { kind: "sq", mx: 424, my: 69, tx: 462, ty: 75.5, label: "Natural deltas" }
        ],
        extra: (g, y) => {
            g.append("g").selectAll("path")
                .data(nienhuisQ.map((q, i) => [q, nienhuisV[i]]))
                .enter().append("path")
                .attr("transform", d => `translate(${x(d[0])},${y(d[1])})`)
                .attr("d", tri(17)).attr("fill", BLUE);
            g.append("g").selectAll("path")
                .data(deltaQA.map((q, i) => [q, deltaVA[i]]))
                .enter().append("path")
                .attr("transform", d => `translate(${x(d[0])},${y(d[1])})`)
                .attr("d", square(11)).attr("fill", BLUE);
            const px = i => x(deltaQA[i]), py = i => y(deltaVA[i]);
            // Patuka, Ebro, Yellow River annotations
            g.append("text").attr("x", px(0) - 2).attr("y", py(0) + 12).attr("text-anchor", "end")
                .attr("font-size", 26).attr("fill", "#111").text(deltaNamesA[0]);
            g.append("text").attr("x", px(1) - 10).attr("y", py(1) + 5).attr("text-anchor", "end")
                .attr("font-size", 26).attr("fill", "#111").text(deltaNamesA[1]);
            arrow(g, px(2) + 4, py(2) + 5, px(2) + 38, py(2) + 42);
            g.append("text").attr("x", px(2) + 39).attr("y", py(2) + 48)
                .attr("font-size", 26).attr("fill", "#111").text(deltaNamesA[2]);
        }
    },
    {
        letter: "(b)", letterDy: 21, top: 325, bottom: 585.3, yDomain: [-10, 0], yTicks: yTicksB,
        points: numB.concat(numBExtra), eq: eq21, fig5: fig5B, yLabelX: 46,
        yLabel: [["log"], ["10", "s"], ["( "], ["v", "i"], ["A*", "si"], ["/"], ["i", "i"], ["e", "si"], [" )"]],
        legend: [
            { kind: "dot", mx: 147, my: 19, tx: 190.7, ty: 33.5, label: "Numerical  results" },
            { kind: "line", mx: 147, my: 62.7, tx: 190.7, ty: 73.5, label: "Eq. (21)" },
            { kind: "star", mx: 147, my: 100, tx: 190.7, ty: 111.7, label: "Figure 5" }
        ]
    },
    {
        letter: "(c)", letterDy: 8, top: 636, bottom: 895.7, yDomain: [0, 10], yTicks: yTicksC,
        points: numC.concat(numCExtra), eq: eq23, fig5: fig5C, yLabelX: 53,
        yLabel: [["log"], ["10", "s"], ["( "], ["T", "i"], ["a*", "si"], [" · "], ["i", "i"], ["e", "si"], [" / "], ["h", "i"], ["*", "s"], [")"]],
        legend: [
            { kind: "dot", mx: 635.7, my: 23.3, tx: 680, ty: 35.7, label: "Numerical  results" },
            { kind: "line", mx: 636, my: 67.3, tx: 679, ty: 75.7, label: "Eq. (23)" },
            { kind: "star", mx: 638.3, my: 102.3, tx: 681.7, ty: 115.7, label: "Figure 5" },
            { kind: "sq", mx: 640, my: 143, tx: 678.3, ty: 149, label: "Natural deltas" }
        ],
        extra: (g, y) => {
            g.append("g").selectAll("path")
                .data(deltaQC.map((q, i) => [q, deltaTC[i]]))
                .enter().append("path")
                .attr("transform", d => `translate(${x(d[0])},${y(d[1])})`)
                .attr("d", square(11)).attr("fill", BLUE);
            const px = i => x(deltaQC[i]), py = i => y(deltaTC[i]);
            arrow(g, px(0) - 2, py(0) + 3, px(0) - 25, py(0) + 32);
            g.append("text").attr("x", px(0) - 29).attr("y", py(0) + 42).attr("text-anchor", "end")
                .attr("font-size", 26).attr("fill", "#111").text(deltaNamesC[0]);
            g.append("text").attr("x", px(1) + 14).attr("y", py(1) + 25).attr("text-anchor", "end")
                .attr("font-size", 26).attr("fill", "#111").text(deltaNamesC[1]);
        }
    }
];

panels.forEach(drawPanel);

// shared x label
mathText(svg, [["log"], ["10", "s"], ["( "], ["Q", "i"], ["total*", "si"], [")"]], 30)
    .attr("text-anchor", "middle")
    .attr("x", 505).attr("y", 965);
</script>
</body>
</html>
